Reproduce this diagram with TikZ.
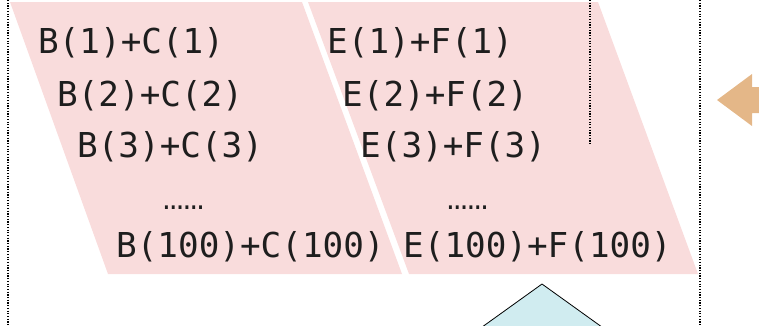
\documentclass[tikz,border=0pt]{standalone}
\usepackage{fontspec}
\newfontfamily\codefont{DejaVu Sans Mono}
\newfontfamily\gapfont{Liberation Mono}
\usepackage{tikz}
\definecolor{sumpink}{RGB}{249,220,220}
\definecolor{arroworange}{RGB}{228,183,136}
\definecolor{tipcyan}{RGB}{208,236,240}
\definecolor{codeink}{RGB}{30,30,30}
\tikzset{
  sumterm/.style={anchor=base west, inner sep=0pt, text=codeink,
    font=\codefont\fontsize{34.3}{40}\selectfont},
  sumgap/.style={anchor=base west, inner sep=0pt, text=codeink,
    font=\gapfont\fontsize{34}{40}\selectfont},
  fence/.style={black, line width=1.3pt, dash pattern=on 1.2pt off 1.5pt}
}
\begin{document}
\begin{tikzpicture}[x=1pt,y=-1pt]
\useasboundingbox (0,0) rectangle (759,325);
\clip (0,0) rectangle (759,325);
\fill[sumpink] (10,2) -- (302,2) -- (402,274) -- (108,274) -- cycle;
\fill[sumpink] (308,2) -- (598,2) -- (698,274) -- (409,274) -- cycle;
\draw[fence] (8,0) -- (8,325);
\draw[fence] (700,0) -- (700,325);
\draw[fence] (590,0) -- (590,145);
\node[sumterm] (b1) at (38,53) {B(1)+C(1)};
\node[sumterm] (b2) at (57,106) {B(2)+C(2)};
\node[sumterm] (b3) at (77,157) {B(3)+C(3)};
\node[sumgap] (bdots) at (163,209) {……};
\node[sumterm] (b100) at (116,257) {B(100)+C(100)};
\node[sumterm] (e1) at (327,53) {E(1)+F(1)};
\node[sumterm] (e2) at (342,106) {E(2)+F(2)};
\node[sumterm] (e3) at (360,157) {E(3)+F(3)};
\node[sumgap] (edots) at (447,209) {……};
\node[sumterm] (e100) at (403,257) {E(100)+F(100)};
\fill[arroworange] (717,100) -- (752,74) -- (752,87) -- (770,87)
  -- (770,113) -- (752,113) -- (752,126) -- cycle;
\draw[fill=tipcyan, line width=0.8pt] (542,284) -- (620,340) -- (464,340) -- cycle;
\end{tikzpicture}
\end{document}
